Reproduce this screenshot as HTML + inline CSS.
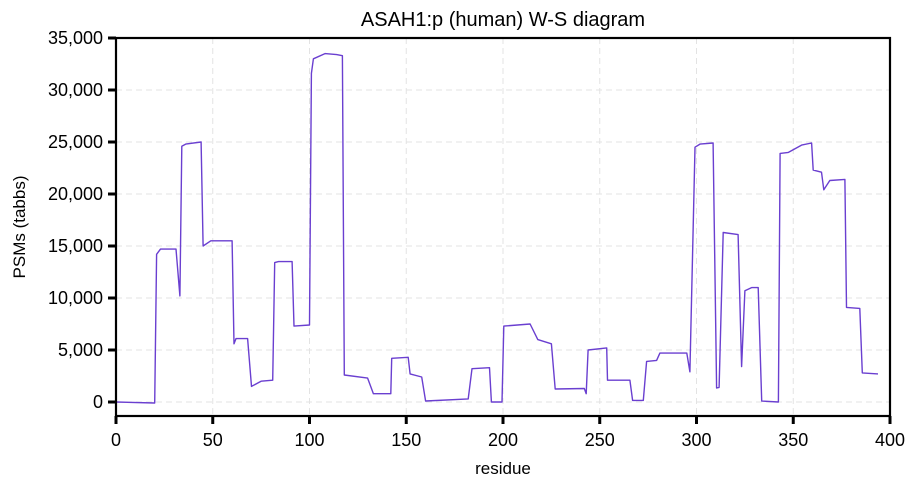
<!DOCTYPE html>
<html><head><meta charset="utf-8"><style>
html,body{margin:0;padding:0;background:#fff;}
svg{display:block;font-family:"Liberation Sans",sans-serif;}
</style></head><body>
<svg id="chart" width="915" height="492" viewBox="0 0 915 492" xmlns="http://www.w3.org/2000/svg">
<rect x="0" y="0" width="915" height="492" fill="#fff"/>
<g id="grid"></g>
<path id="series" fill="none" stroke="#6a3fd0" stroke-width="1.4" stroke-linejoin="round"/>
<rect x="116" y="38" width="774" height="378" fill="none" stroke="#000" stroke-width="2.2"/>
<g id="ticks"></g>
<text x="503" y="26" font-size="20" text-anchor="middle">ASAH1:p (human) W-S diagram</text>
<text x="503" y="474" font-size="17" text-anchor="middle">residue</text>
<text transform="translate(25,227) rotate(-90)" font-size="17" text-anchor="middle">PSMs (tabbs)</text>
</svg>
<script>
const xTicks=[0,50,100,150,200,250,300,350,400];
const yTicks=[0,5000,10000,15000,20000,25000,30000,35000];
const residues=[0,20,21,23,31,33,34,36,44,45,49,60,61,62,68,70,75,81,82,84,91,92,100,101,102,108,114,117,118,130,133,142,142.5,151,152,158,160,182,184,193,194,199.5,200.4,214,218,225,227,242,243,244,253.6,254,265.6,267,272.5,274.2,279.4,281.1,295,296.6,299.2,301.8,308.6,310.4,311.7,313.8,321.5,323.3,325,328.5,331.9,333.7,342.3,343.2,347.5,354.3,359.5,360.3,364.6,365.8,368.9,376.7,377.5,384.4,385.7,393.8];
const psms=[0,-100,14200,14700,14700,10200,24600,24800,25000,15000,15500,15500,5600,6100,6100,1500,2000,2100,13400,13500,13500,7300,7400,31600,33000,33500,33400,33300,2600,2300,800,800,4200,4300,2700,2400,100,300,3200,3300,0,0,7300,7500,6000,5600,1250,1300,800,5000,5200,2100,2100,150,150,3900,4000,4700,4700,2900,24500,24800,24900,1350,1400,16300,16100,3400,10700,11000,11000,100,0,23900,24000,24700,24900,22300,22100,20400,21300,21400,9100,9000,2800,2700];
const X=v=>116+v*1.935;
const Y=v=>402-v*0.0104;
const NS='http://www.w3.org/2000/svg';
const grid=document.getElementById('grid'),ticks=document.getElementById('ticks');
function mk(tag,attrs,parent){const e=document.createElementNS(NS,tag);for(const k in attrs)e.setAttribute(k,attrs[k]);parent.appendChild(e);return e;}
xTicks.forEach(t=>{
  const g=mk('line',{x1:X(t),x2:X(t),y1:38,y2:416,stroke:'#e3e3e3','stroke-dasharray':'6,4','stroke-width':1},grid);
  
  
  const tk=mk('line',{x1:X(t),x2:X(t),y1:416,y2:424,stroke:'#000','stroke-width':3},ticks);
  
  
  const lb=mk('text',{x:X(t),y:446,'font-size':18,'text-anchor':'middle'},ticks);
  lb.textContent=t;
  
  
});
yTicks.forEach(t=>{
  const g=mk('line',{x1:116,x2:890,y1:Y(t),y2:Y(t),stroke:'#e3e3e3','stroke-dasharray':'6,4','stroke-width':1},grid);
  
  
  const tk=mk('line',{x1:108,x2:116,y1:Y(t),y2:Y(t),stroke:'#000','stroke-width':3},ticks);
  
  
  const lb=mk('text',{x:103,y:Y(t)+6,'font-size':18,'text-anchor':'end'},ticks);
  lb.textContent=t.toLocaleString('en-US');
  
  
});
let d='';
residues.forEach((r,i)=>{d+=(i?'L':'M')+X(r).toFixed(1)+','+Y(psms[i]).toFixed(1);});
document.getElementById('series').setAttribute('d',d);
</script>
</body></html>
